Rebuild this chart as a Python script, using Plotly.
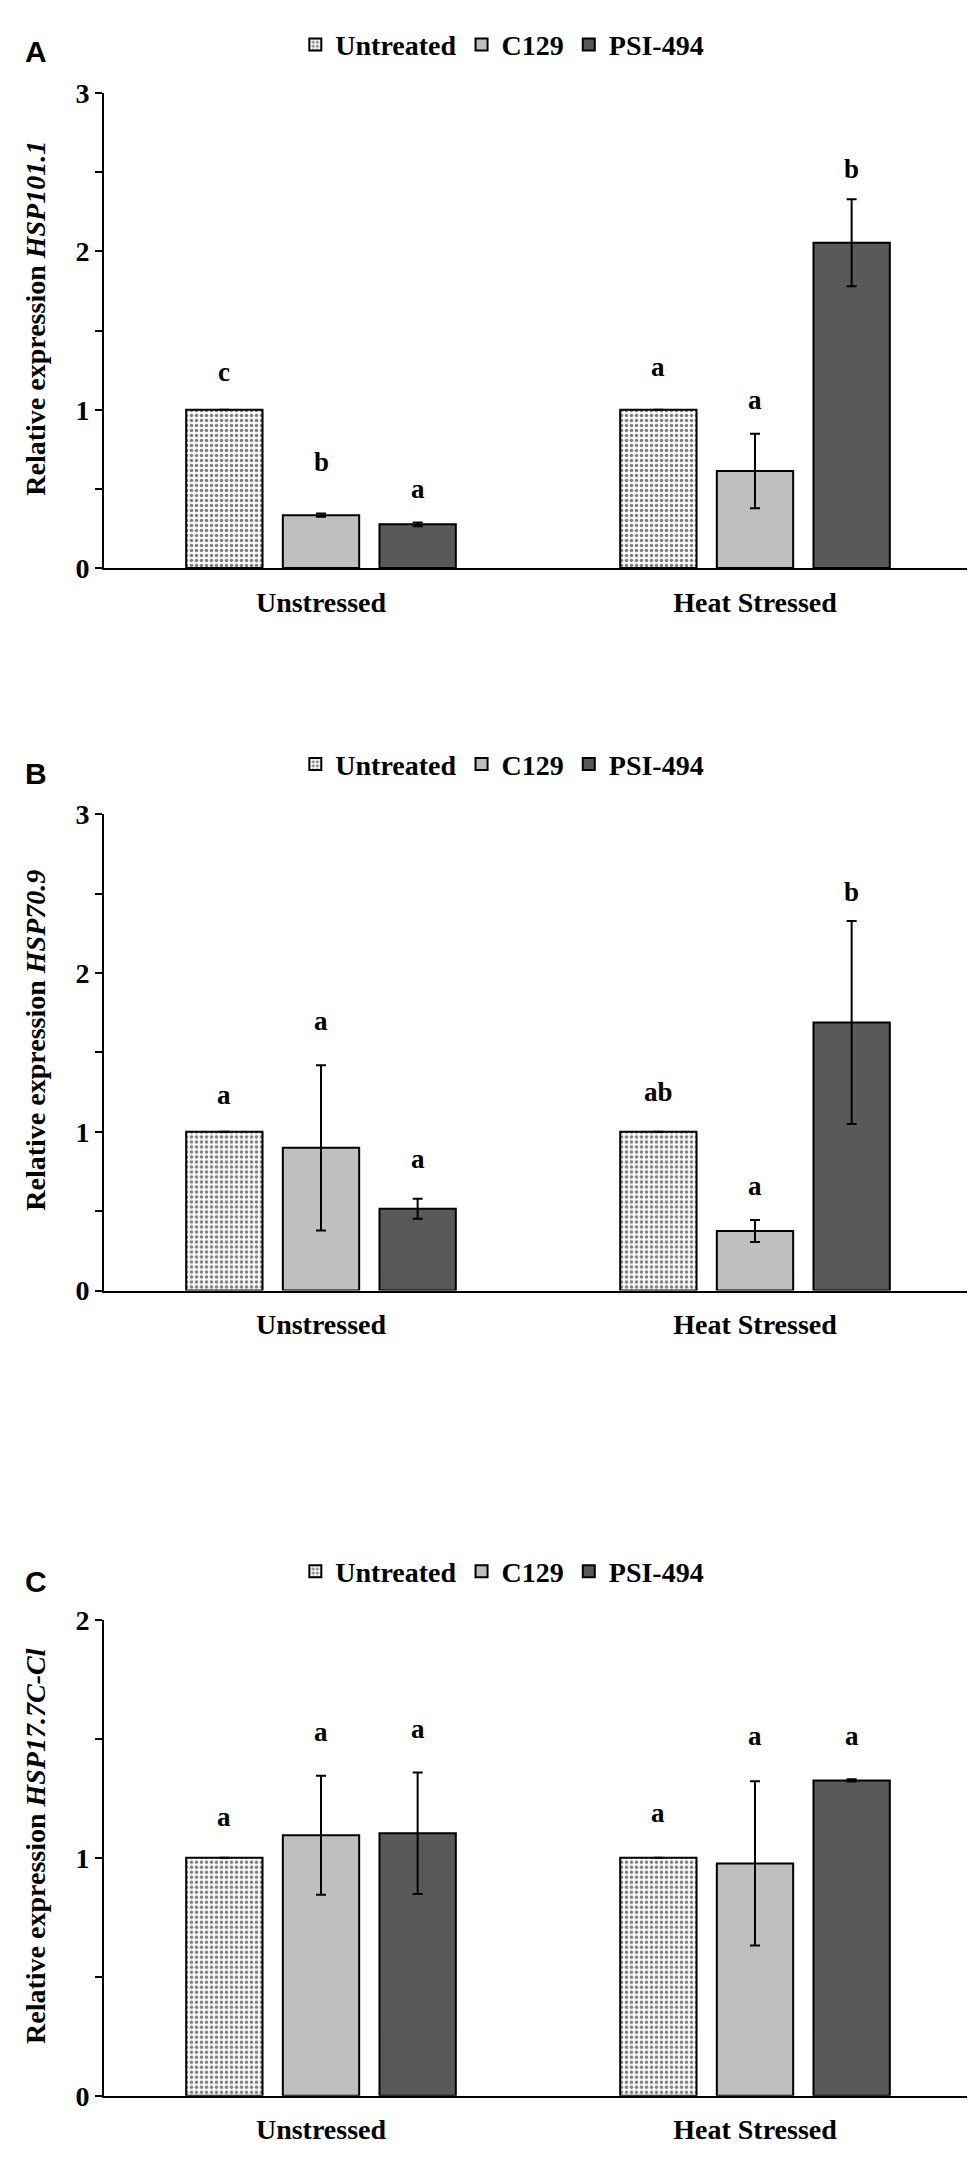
import plotly.graph_objects as go

conditions = ["Unstressed", "Heat Stressed"]
treatments = ["Untreated", "C129", "PSI-494"]

# Panel A - HSP101.1
a_untreated = [1.0, 1.0]
a_c129 = [0.334, 0.613]
a_psi = [0.276, 2.054]
a_untreated_err = [0.0, 0.0]
a_c129_err = [0.01, 0.235]
a_psi_err = [0.012, 0.275]
a_letters = [["c", "a"], ["b", "a"], ["a", "b"]]
a_letter_y = [[1.24, 1.27], [0.67, 1.06], [0.50, 2.52]]

# Panel B - HSP70.9
b_untreated = [1.0, 1.0]
b_c129 = [0.899, 0.375]
b_psi = [0.516, 1.689]
b_untreated_err = [0.0, 0.0]
b_c129_err = [0.52, 0.07]
b_psi_err = [0.063, 0.64]
b_letters = [["a", "ab"], ["a", "a"], ["a", "b"]]
b_letter_y = [[1.23, 1.25], [1.70, 0.66], [0.83, 2.51]]

# Panel C - HSP17.7C-CI
c_untreated = [1.0, 1.0]
c_c129 = [1.095, 0.976]
c_psi = [1.103, 1.325]
c_untreated_err = [0.0, 0.0]
c_c129_err = [0.25, 0.345]
c_psi_err = [0.255, 0.005]
c_letters = [["a", "a"], ["a", "a"], ["a", "a"]]
c_letter_y = [[1.17, 1.19], [1.53, 1.51], [1.54, 1.51]]

y_ticks_3 = [0, 0.5, 1, 1.5, 2, 2.5, 3]
y_ticktext_3 = ["0", "", "1", "", "2", "", "3"]
y_ticks_2 = [0, 0.5, 1, 1.5, 2]
y_ticktext_2 = ["0", "", "1", "", "2"]

W, H = 975, 2158
SERIF = "Liberation Serif"
fill_colors = ["white", "#bfbfbf", "#595959"]

panels = [
    dict(label="A", gene="HSP101.1", vals=[a_untreated, a_c129, a_psi],
         errs=[a_untreated_err, a_c129_err, a_psi_err],
         letters=a_letters, letter_y=a_letter_y,
         top=71, bottom=553, ymax=3, tickvals=y_ticks_3, ticktext=y_ticktext_3,
         legend_y=22, label_y=29),
    dict(label="B", gene="HSP70.9", vals=[b_untreated, b_c129, b_psi],
         errs=[b_untreated_err, b_c129_err, b_psi_err],
         letters=b_letters, letter_y=b_letter_y,
         top=803, bottom=1286, ymax=3, tickvals=y_ticks_3, ticktext=y_ticktext_3,
         legend_y=752, label_y=761),
    dict(label="C", gene="HSP17.7C-Cl", vals=[c_untreated, c_c129, c_psi],
         errs=[c_untreated_err, c_c129_err, c_psi_err],
         letters=c_letters, letter_y=c_letter_y,
         top=1620, bottom=2103, ymax=2, tickvals=y_ticks_2, ticktext=y_ticktext_2,
         legend_y=1571, label_y=1581),
]

x_left, x_right = 96, 964
bargap = 0.332
bargroupgap = 0.21
slot_px = (x_right - x_left) / len(conditions) * (1 - bargap) / len(treatments)

fig = go.Figure()
annotations = []
layout_extra = {}

for p_i, p in enumerate(panels):
    suffix = "" if p_i == 0 else str(p_i + 1)
    legend_name = "legend" + suffix
    for t_i, name in enumerate(treatments):
        marker = dict(color=fill_colors[t_i], line=dict(color="black", width=2))
        if t_i == 0:
            marker["pattern"] = dict(shape=".", fgcolor="black", bgcolor="white",
                                     size=5, solidity=0.4)
        fig.add_trace(go.Bar(
            x=conditions, y=p["vals"][t_i], name=name,
            marker=marker,
            error_y=dict(type="data", array=p["errs"][t_i], color="black",
                         thickness=2, width=5),
            xaxis="x" + suffix, yaxis="y" + suffix,
            legend=legend_name, showlegend=True,
        ))
        for c_i, cond in enumerate(conditions):
            annotations.append(dict(
                x=cond, y=p["letter_y"][t_i][c_i], xref="x" + suffix, yref="y" + suffix,
                text="<b>%s</b>" % p["letters"][t_i][c_i], showarrow=False,
                xshift=(t_i - 1) * slot_px, xanchor="center", yanchor="middle",
                font=dict(family=SERIF, size=27, color="black"),
            ))

    ydom = [1 - p["bottom"] / H, 1 - p["top"] / H]
    layout_extra["xaxis" + suffix] = dict(
        domain=[x_left / W, x_right / W], anchor="y" + suffix,
        showline=True, linecolor="black", linewidth=2, ticks="",
        showgrid=False, zeroline=False, ticklabelstandoff=8,
        tickfont=dict(family=SERIF, size=28, color="black", weight="bold"),
    )
    layout_extra["yaxis" + suffix] = dict(
        domain=ydom, anchor="x" + suffix, range=[0, p["ymax"]],
        tickvals=p["tickvals"], ticktext=p["ticktext"],
        showline=True, linecolor="black", linewidth=2,
        ticks="outside", ticklen=7, tickwidth=2, tickcolor="black",
        showgrid=False, zeroline=False,
        tickfont=dict(family=SERIF, size=28, color="black", weight="bold"),
    )
    layout_extra[legend_name] = dict(
        x=0.507, y=1 - p["legend_y"] / H, xanchor="center", yanchor="middle",
        orientation="h", bgcolor="rgba(0,0,0,0)", itemclick=False,
        font=dict(family=SERIF, size=28, color="black", weight="bold"),
    )
    # y-axis title
    annotations.append(dict(
        x=28 / W, y=1 - ((p["top"] + p["bottom"]) / 2 - 12) / H,
        xref="paper", yref="paper", textangle=-90, showarrow=False,
        xanchor="center", yanchor="middle",
        text="<b>Relative expression <i>%s</i></b>" % p["gene"],
        font=dict(family=SERIF, size=28, color="black"),
    ))
    # panel letter
    annotations.append(dict(
        x=28 / W, y=1 - p["label_y"] / H, xref="paper", yref="paper",
        xanchor="center", yanchor="middle",
        text="<b>%s</b>" % p["label"], showarrow=False,
        font=dict(family="Liberation Sans", size=30, color="black"),
    ))

fig.update_layout(
    width=W, height=H,
    margin=dict(l=0, r=0, t=0, b=0),
    paper_bgcolor="white", plot_bgcolor="white",
    barmode="group", bargap=bargap, bargroupgap=bargroupgap,
    annotations=annotations,
    **layout_extra,
)

fig.write_html("out.html")
